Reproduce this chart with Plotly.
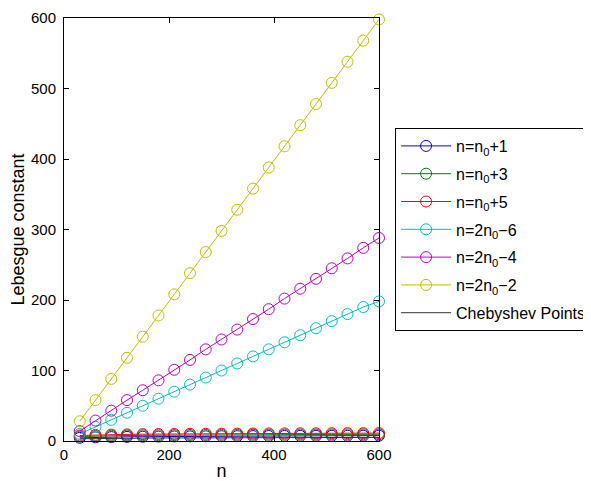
import plotly.graph_objects as go

n_vals = [30, 60, 90, 120, 150, 180, 210, 240, 270, 300, 330, 360, 390, 420, 450, 480, 510, 540, 570, 600]

blue_n0p1 = [4.5, 5.2, 5.6, 5.9, 6.1, 6.3, 6.5, 6.6, 6.7, 6.8, 6.9, 7.0, 7.1, 7.2, 7.3, 7.3, 7.4, 7.5, 7.5, 7.6]
green_n0p3 = [6.3, 7.0, 7.5, 7.8, 8.0, 8.2, 8.4, 8.5, 8.6, 8.7, 8.8, 8.9, 9.0, 9.1, 9.2, 9.2, 9.3, 9.4, 9.4, 9.5]
red_n0p5 = [7.8, 8.6, 9.1, 9.4, 9.7, 9.9, 10.0, 10.2, 10.3, 10.4, 10.5, 10.6, 10.7, 10.8, 10.9, 10.9, 11.0, 11.1, 11.1, 11.2]
cyan_2n0m6 = [10, 20, 30, 40, 50, 60, 70, 80, 90, 100, 110, 120, 130, 140, 150, 160, 170, 180, 190, 198]
magenta_2n0m4 = [14, 29, 43, 58, 72, 86, 101, 115, 130, 144, 158, 173, 187, 202, 216, 230, 245, 259, 274, 288]
yellow_2n0m2 = [28, 58, 88, 118, 148, 178, 208, 238, 268, 298, 328, 358, 388, 418, 448, 478, 508, 538, 568, 598]
chebyshev = [3.1, 3.6, 3.8, 4.0, 4.1, 4.3, 4.4, 4.5, 4.5, 4.6, 4.7, 4.7, 4.8, 4.8, 4.9, 4.9, 5.0, 5.0, 5.0, 5.1]

series = [
    ("n=n<sub>0</sub>+1", blue_n0p1, "#0000ff"),
    ("n=n<sub>0</sub>+3", green_n0p3, "#008000"),
    ("n=n<sub>0</sub>+5", red_n0p5, "#ff0000"),
    ("n=2n<sub>0</sub>\u22126", cyan_2n0m6, "#00bfbf"),
    ("n=2n<sub>0</sub>\u22124", magenta_2n0m4, "#bf00bf"),
    ("n=2n<sub>0</sub>\u22122", yellow_2n0m2, "#bfbf00"),
]

fig = go.Figure()
for i, (name, ys, col) in enumerate(series):
    fig.add_trace(go.Scatter(
        x=n_vals, y=ys, name=name, mode="lines+markers",
        line=dict(color=col, width=1),
        marker=dict(symbol="circle-open", size=11, color=col, line=dict(width=1, color=col)),
        cliponaxis=False, legendgroup=f"g{i}",
    ))
fig.add_trace(go.Scatter(
    x=n_vals, y=chebyshev, name="Chebyshev Points", mode="lines",
    line=dict(color="#333333", width=1), legendgroup="g6",
))

font = dict(family="Liberation Sans, Arial, sans-serif", size=15, color="black")
fig.update_layout(
    width=583, height=473,
    margin=dict(l=56, r=212, t=10, b=40, autoexpand=False),
    paper_bgcolor="white", plot_bgcolor="white",
    font=font,
    showlegend=True,
    legend=dict(
        x=1.051, y=0.5, xanchor="left", yanchor="middle",
        bordercolor="black", borderwidth=1, bgcolor="white",
        font=dict(family="Liberation Sans, Arial, sans-serif", size=16, color="black"),
        tracegroupgap=4, itemwidth=50,
    ),
    xaxis=dict(
        range=[0, 600], tickvals=[0, 200, 400, 600],
        showgrid=False, zeroline=False, automargin=False,
        showline=True, linecolor="black", linewidth=1, mirror="ticks",
        ticks="inside", ticklen=5, tickcolor="black",
        title=dict(text="n", standoff=10),
    ),
    yaxis=dict(
        range=[0, 600], tickvals=[0, 100, 200, 300, 400, 500, 600],
        showgrid=False, zeroline=False, automargin=False,
        showline=True, linecolor="black", linewidth=1, mirror="ticks",
        ticks="inside", ticklen=5, tickcolor="black",
        ticklabelstandoff=4,
        title=dict(text="Lebesgue constant", standoff=4),
    ),
)

fig.write_html("out.html")
